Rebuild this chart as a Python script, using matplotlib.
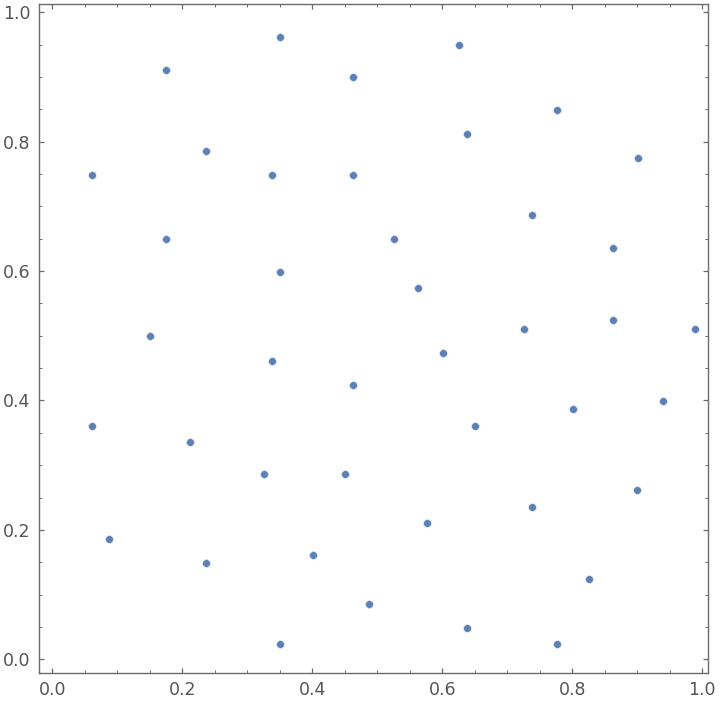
import matplotlib
matplotlib.use('Agg')
import matplotlib.pyplot as plt
from matplotlib.ticker import MultipleLocator

# point coordinates
xs = [0.350, 0.1745, 0.462, 0.236, 0.0606, 0.3375, 0.462, 0.1745, 0.350, 0.1503,
      0.625, 0.7765, 0.6375, 0.9006, 0.7375, 0.525, 0.8626, 0.5626, 0.725, 0.8626, 0.9883,
      0.3375, 0.462, 0.0606, 0.2118, 0.3257, 0.4498, 0.0867, 0.236, 0.4006, 0.4868, 0.350,
      0.6006, 0.9391, 0.8006, 0.6498, 0.900, 0.7375, 0.5765, 0.8252, 0.6375, 0.7765]
ys = [0.9623, 0.9113, 0.9005, 0.7856, 0.749, 0.749, 0.749, 0.650, 0.599, 0.500,
      0.950, 0.8495, 0.8124, 0.7753, 0.6872, 0.650, 0.6362, 0.5743, 0.511, 0.5249, 0.511,
      0.4615, 0.4244, 0.361, 0.3359, 0.2869, 0.2869, 0.1864, 0.1493, 0.1617, 0.0859, 0.0241,
      0.4739, 0.3997, 0.3873, 0.361, 0.2621, 0.2359, 0.2111, 0.1246, 0.0488, 0.0241]

fig = plt.figure(figsize=(7.2, 7.04), dpi=100)
ax = fig.add_axes([0.0535, 0.0445, 0.9298, 0.9505])

ax.plot(xs, ys, 'o', color='#5e81b5', markersize=5.6,
        markeredgecolor='#dfe6f1', markeredgewidth=0.4, linestyle='none')

ax.set_xlim(-0.0212, 1.0088)
ax.set_ylim(-0.0207, 1.0136)

# Mathematica-style frame
frame_col = '#6b6b6b'
for s in ax.spines.values():
    s.set_color(frame_col)
    s.set_linewidth(1.0)

ax.xaxis.set_major_locator(MultipleLocator(0.2))
ax.yaxis.set_major_locator(MultipleLocator(0.2))
ax.xaxis.set_minor_locator(MultipleLocator(0.05))
ax.yaxis.set_minor_locator(MultipleLocator(0.05))
ax.xaxis.set_major_formatter(plt.FuncFormatter(lambda v, p: f'{v:.1f}'))
ax.yaxis.set_major_formatter(plt.FuncFormatter(lambda v, p: f'{v:.1f}'))

ax.tick_params(which='both', direction='in', top=True, right=True,
               color=frame_col, labelcolor='#555555')
ax.tick_params(which='major', length=3.8, width=0.9, labelsize=12.5, pad=6)
ax.tick_params(which='minor', length=1.9, width=0.7)

fig.savefig('out.png', dpi=100)
